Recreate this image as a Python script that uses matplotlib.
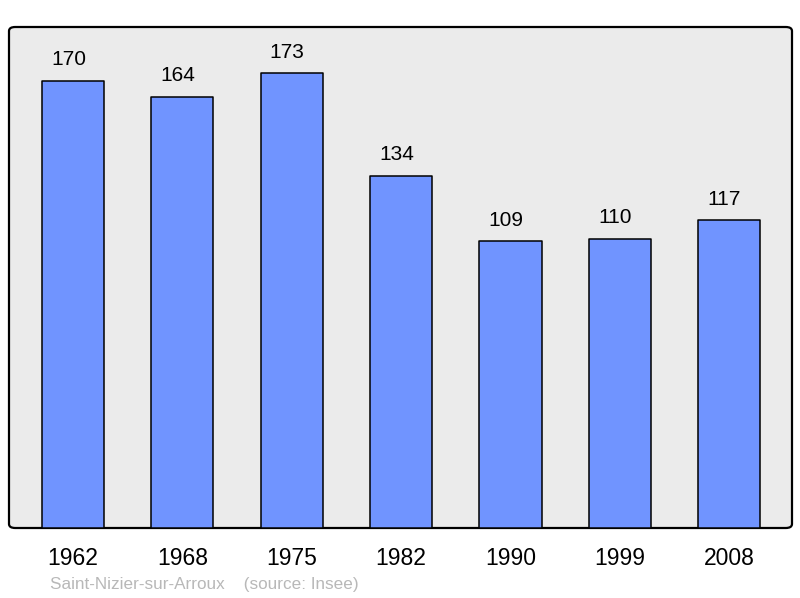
import matplotlib.pyplot as plt
from matplotlib.patches import FancyBboxPatch

plt.rcParams['font.family'] = ['Liberation Sans', 'DejaVu Sans']

years = ['1962', '1968', '1975', '1982', '1990', '1999', '2008']
population = [170, 164, 173, 134, 109, 110, 117]

fig = plt.figure(figsize=(8, 5.98), dpi=100)
ax = fig.add_axes([9 / 800, 70 / 598, 783 / 800, 501 / 598])

# rounded frame with light grey fill
ax.patch.set_visible(False)
for s in ax.spines.values():
    s.set_visible(False)
frame = FancyBboxPatch((0, 0), 1, 1, boxstyle='round,pad=0,rounding_size=0.008',
                       transform=ax.transAxes, facecolor='#ebebeb',
                       edgecolor='black', linewidth=1.6, zorder=0, clip_on=False)
ax.add_patch(frame)

x = list(range(len(years)))
bars = ax.bar(x, population, width=0.57, color='#7094ff', edgecolor='black',
              linewidth=1.1, zorder=2)
for b in bars:
    b.set_joinstyle('round')

for xi, v in zip(x, population):
    ax.annotate(str(v), (xi, v), xytext=(-3.3, 16.5), textcoords='offset points',
                ha='center', va='center_baseline', fontsize=15, color='black')

ax.set_xlim(-0.585, 6.575)
ax.set_ylim(0, 190.5)
ax.set_yticks([])
ax.set_xticks(x)
ax.set_xticklabels(years, fontsize=16.5)
ax.tick_params(axis='x', length=0, pad=14)

fig.text(50 / 800, 1 - 585 / 598, 'Saint-Nizier-sur-Arroux    (source: Insee)',
         fontsize=12.3, color='#b8b8b8', ha='left', va='center')

fig.savefig('out.png', dpi=100)
